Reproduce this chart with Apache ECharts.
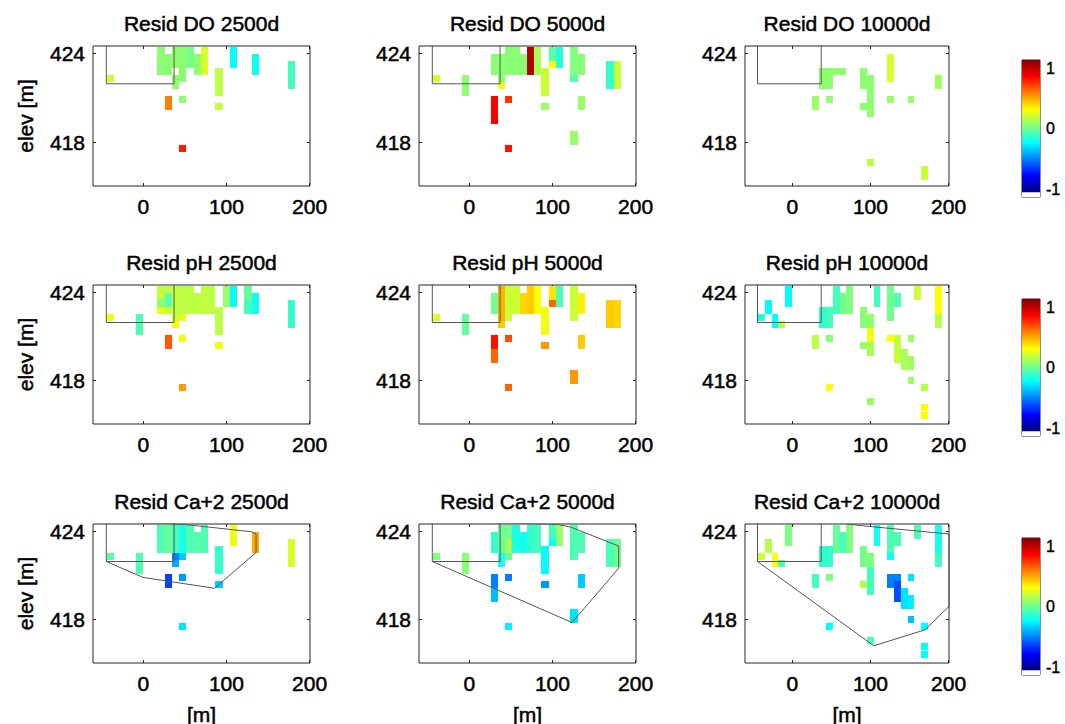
<!DOCTYPE html>
<html>
<head>
<meta charset="utf-8">
<script src="https://cdn.jsdelivr.net/npm/echarts@6/dist/echarts.min.js"></script>
<style>
html,body{margin:0;padding:0;background:#fff;}
#chart{width:1065px;height:724px;}
</style>
</head>
<body>
<div id="chart"></div>
<script>
// ---------- DATA ----------
// model grid: column centres (m) and row centres (elevation, m)
const colX = [-39.5, -30.8, -22.1, -13.4, -4.7, 4.0, 12.7, 21.4, 30.1, 38.8, 47.5, 56.2, 64.9, 73.6,
              82.3, 91.0, 99.7, 108.4, 117.1, 125.8, 134.5, 143.2, 151.9, 160.6, 169.3, 178.0, 186.7, 195.4];
const rowY = [424.21, 423.74, 423.26, 422.79, 422.31, 421.84, 421.36, 420.89, 420.41, 419.94,
              419.46, 418.99, 418.51, 418.04, 417.56, 417.09, 416.61, 416.14, 415.66, 415.19];

const xTicks = [0, 100, 200];
const yTicks = [418, 424];
const cbTicks = [-1, 0, 1];

const panelTitles = ['Resid DO 2500d', 'Resid DO 5000d', 'Resid DO 10000d',
                     'Resid pH 2500d', 'Resid pH 5000d', 'Resid pH 10000d',
                     'Resid Ca+2 2500d', 'Resid Ca+2 5000d', 'Resid Ca+2 10000d'];

// residual cells: [column index, first row, last row, residual]
const doCells2500 = [
  [0,4,4,0.15],[7,0,3,0.02],[8,1,3,0.02],[9,0,2,0.03],[9,4,5,0.03],[10,0,4,0.02],[11,0,2,-0.02],
  [12,1,3,0.03],[13,0,3,0.18],[15,3,6,0.12],[15,8,8,0.13],[17,0,2,-0.25],[20,1,3,-0.22],
  [25,2,5,-0.12],[8,7,8,0.5],[10,7,7,0.02],[10,14,14,0.7]
];
const doCells5000 = [
  [0,4,4,0.18],[4,4,6,0.03],[8,1,3,0.02],[9,1,3,0.02],[9,4,4,0.02],[9,5,5,0.2],[10,0,3,0.02],
  [11,0,3,0.02],[12,1,3,0.02],[13,0,3,0.9],[14,0,3,0.08],[15,3,6,0.15],[15,8,8,0.05],
  [16,0,1,-0.08],[16,2,2,0.25],[17,0,2,-0.18],[19,0,3,0.0],[19,4,4,-0.08],[20,1,3,0.02],
  [20,7,8,0.05],[19,12,13,0.05],[24,2,5,-0.15],[25,2,5,0.15],[8,7,10,0.75],[10,7,7,0.65],
  [10,14,14,0.72]
];
const doCells10000 = [
  [9,3,5,0.03],[10,3,5,0.03],[11,3,3,0.03],[12,3,3,0.03],[8,7,8,0.05],[10,7,7,0.03],
  [15,3,5,0.03],[15,8,8,0.03],[16,4,9,0.03],[19,1,4,0.17],[19,7,7,0.05],[22,7,7,0.05],
  [26,4,5,0.06],[16,16,16,0.12],[24,17,18,0.14]
];
const phCells2500 = [
  [0,4,4,0.22],[4,4,6,-0.1],[7,0,1,0.12],[7,2,2,0.02],[7,3,3,0.2],[8,0,0,0.12],[8,1,2,-0.08],
  [8,3,3,0.15],[9,0,3,0.12],[9,4,4,0.15],[9,5,5,0.25],[10,0,3,0.12],[10,4,4,0.2],[11,0,3,0.12],
  [12,1,3,0.12],[13,0,3,0.13],[14,0,3,0.12],[15,3,6,0.12],[15,8,8,0.22],[16,0,2,0.05],
  [17,0,2,-0.25],[19,0,1,-0.05],[19,2,3,-0.12],[20,1,3,-0.22],[25,2,5,-0.15],[8,7,8,0.58],
  [10,7,7,0.22],[10,14,14,0.45]
];
const phCells5000 = [
  [0,4,4,0.18],[4,4,6,-0.05],[8,1,3,-0.02],[8,7,8,0.72],[8,9,10,0.55],[9,0,4,0.4],[9,5,5,0.35],
  [10,0,4,0.15],[10,7,7,0.6],[10,14,14,0.55],[11,0,3,0.15],[12,1,3,0.33],[13,0,3,0.35],
  [14,0,3,0.25],[15,3,6,0.22],[15,8,8,0.45],[16,0,1,0.3],[16,2,2,0.55],[17,0,2,-0.1],
  [19,0,4,0.15],[20,1,3,0.28],[20,7,8,0.35],[19,12,13,0.45],[24,2,5,0.35],[25,2,5,0.33]
];
const phCells10000 = [
  [0,4,4,-0.2],[1,2,3,-0.25],[2,4,5,-0.25],[3,5,5,0.1],[4,0,2,-0.25],[8,7,8,0.12],[9,3,5,-0.15],
  [10,3,5,-0.12],[10,7,7,0.02],[10,14,14,0.25],[11,0,3,-0.12],[12,1,3,-0.02],[13,0,3,0.0],
  [15,3,5,0.02],[15,8,8,0.05],[16,4,5,0.03],[16,6,7,0.22],[16,8,9,0.08],[16,16,16,0.05],
  [17,0,2,-0.12],[19,0,4,-0.03],[20,1,2,-0.1],[19,7,7,0.25],[20,7,10,0.13],[21,9,11,0.08],
  [22,7,7,0.04],[22,10,11,0.06],[22,13,13,0.05],[23,0,1,0.15],[24,14,14,0.1],[24,17,18,0.25],
  [26,0,3,0.25],[26,4,5,0.1]
];
const caCells2500 = [
  [0,4,4,-0.08],[4,4,6,-0.1],[7,0,3,-0.1],[8,0,3,-0.05],[9,0,3,-0.12],[9,4,4,-0.5],[9,5,5,-0.42],
  [10,0,3,-0.2],[10,4,4,-0.35],[10,7,7,-0.45],[10,14,14,-0.3],[11,0,3,-0.1],[12,1,3,-0.08],
  [13,0,3,-0.1],[15,3,6,-0.15],[15,8,8,-0.35],[8,7,8,-0.62],[17,0,2,0.22],[20,1,3,0.42],
  [25,2,5,0.18]
];
const caCells5000 = [
  [0,4,4,0.0],[4,4,6,0.02],[8,1,3,-0.15],[9,0,3,-0.05],[9,4,5,-0.2],[10,0,1,-0.02],[10,2,3,0.08],
  [10,4,4,-0.05],[10,7,7,-0.5],[10,14,14,-0.28],[11,0,3,-0.2],[12,1,3,-0.22],[13,0,3,-0.15],
  [14,0,3,-0.12],[15,3,6,-0.25],[15,8,8,-0.45],[16,0,1,-0.12],[16,2,2,-0.25],[17,0,2,0.05],
  [19,0,4,-0.1],[19,12,13,-0.3],[20,1,3,-0.1],[20,7,8,-0.35],[8,7,8,-0.5],[8,9,10,-0.38],
  [24,2,5,-0.1],[25,2,5,-0.03]
];
const caCells10000 = [
  [0,4,4,0.15],[1,2,3,0.1],[2,4,5,0.25],[3,5,5,-0.08],[4,0,2,0.0],[8,7,8,-0.12],[9,3,5,-0.15],
  [10,3,5,-0.15],[10,7,7,0.0],[10,14,14,-0.25],[11,0,3,-0.05],[12,1,3,-0.12],[13,0,3,0.0],
  [15,3,5,-0.02],[15,8,8,0.1],[16,4,5,0.0],[16,6,9,-0.12],[16,16,16,-0.1],[17,0,2,-0.22],
  [19,0,3,-0.1],[19,4,4,-0.22],[20,1,2,-0.1],[19,7,8,-0.5],[20,7,7,-0.5],[20,8,10,-0.6],
  [21,9,11,-0.3],[22,7,7,-0.3],[22,10,11,-0.28],[22,13,13,-0.38],[23,0,1,-0.1],
  [24,14,14,-0.25],[24,17,18,-0.25],[26,0,3,-0.2],[26,4,5,-0.12]
];

// outlines (m, elevation m)
const sourceBox = [[-44.5,424.7],[-44.5,421.95],[37,421.95],[37,424.7]];
const plumeCa2500 = [[-44.5,421.95],[-0.5,420.87],[85.6,420.13],[135.6,422.56],[135.6,423.82],
                     [130.4,423.97],[49.6,424.47],[-44.5,424.7]];
const plumeCa5000 = [[-44.5,421.95],[123.6,417.8],[179.7,421.5],[179.7,423.0],[122.9,424.27],
                     [106.8,424.47],[-44.5,424.7]];
const plumeCa10000 = [[-44.5,421.95],[104.2,416.22],[169.6,417.3],[200.5,418.9],[200.5,423.82],
                      [89.5,424.38],[70,424.5]];

// colour bar: [from, to, kind]  kind 0 = no-data (white) bin, 1 = colour ramp
const cbBins = [[-1, -0.93, 0], [-0.93, 1, 1]];

const panelCells = [doCells2500, doCells5000, doCells10000, phCells2500, phCells5000, phCells10000,
                    caCells2500, caCells5000, caCells10000];
const panelOutlines = [[sourceBox], [sourceBox], [sourceBox], [sourceBox], [sourceBox], [sourceBox],
                       [sourceBox, plumeCa2500], [sourceBox, plumeCa5000], [sourceBox, plumeCa10000]];

// ---------- LAYOUT / STYLE ----------
const X_MIN = -60.5, X_MAX = 200.5, Y_MIN = 415.05, Y_MAX = 424.5;
const CELL_W = 8.7, CELL_H = 0.475;
const colLeft = [93, 419, 745], colWidth = [217, 217, 204];
const rowTop = [46, 285, 524], rowH = [140, 139, 139];
const cbLeft = 1022, cbWidth = 18, cbTop = [60, 299, 538], cbH = 137;
const FONT = 'Liberation Sans, Arial, Helvetica, sans-serif';
const AX = '#262626';
const TXT_STROKE = 0.5;

function jet(v) {
  const t = Math.max(0, Math.min(1, (v + 1) / 2));
  const f = c => Math.round(255 * Math.max(0, Math.min(1, 1.5 - Math.abs(4 * t - c))));
  return 'rgb(' + f(3) + ',' + f(2) + ',' + f(1) + ')';
}

function cellRender(params, api) {
  const x = api.value(0), y = api.value(1), v = api.value(2);
  const p0 = api.coord([x - CELL_W / 2, y + CELL_H / 2]);
  const p1 = api.coord([x + CELL_W / 2, y - CELL_H / 2]);
  const x0 = Math.round(p0[0]), x1 = Math.round(p1[0]);
  const y0 = Math.round(p0[1]), y1 = Math.round(p1[1]);
  return { type: 'rect', shape: { x: x0, y: y0, width: x1 - x0, height: y1 - y0 },
           style: { fill: jet(v) } };
}

function cbRender(params, api) {
  const lo = api.value(0), hi = api.value(1), kind = api.value(2);
  const p0 = api.coord([0, hi]);
  const p1 = api.coord([1, lo]);
  let fill = '#ffffff';
  if (kind === 1) {
    const stops = [1, 0.75, 0.25, -0.25, -0.75, -1].map(v => ({ offset: (1 - v) / 2, color: jet(v) }));
    fill = new echarts.graphic.LinearGradient(0, 0, 0, 1, stops);
  }
  return { type: 'rect', shape: { x: p0[0], y: p0[1], width: p1[0] - p0[0], height: p1[1] - p0[1] },
           style: { fill: fill } };
}

const grids = [], xAxes = [], yAxes = [], series = [], graphics = [];
const labelStyle = { color: '#000', fontSize: 21, fontFamily: FONT,
                     textBorderColor: '#000', textBorderWidth: TXT_STROKE };
const noLine = { show: false, onZero: false };
function textStyle(t) {
  return { text: t, fontSize: 21, fontFamily: FONT, fill: '#000', stroke: '#000', lineWidth: TXT_STROKE,
           align: 'center', verticalAlign: 'middle' };
}

for (let i = 0; i < 9; i++) {
  const ri = Math.floor(i / 3), ci = i % 3;
  grids.push({ left: colLeft[ci], top: rowTop[ri], width: colWidth[ci], height: rowH[ri],
               show: true, borderColor: AX, borderWidth: 1, backgroundColor: '#fff' });
  const xBase = { gridIndex: i, type: 'value', min: X_MIN, max: X_MAX, splitLine: { show: false },
                  axisLine: noLine };
  xAxes.push(Object.assign({}, xBase, { position: 'bottom',
    axisTick: { inside: true, length: 3, customValues: xTicks, lineStyle: { color: AX } },
    axisLabel: Object.assign({ customValues: xTicks, margin: 10 }, labelStyle) }));
  xAxes.push(Object.assign({}, xBase, { position: 'top',
    axisTick: { inside: true, length: 3, customValues: xTicks, lineStyle: { color: AX } },
    axisLabel: { show: false } }));
  const yBase = { gridIndex: i, type: 'value', min: Y_MIN, max: Y_MAX, splitLine: { show: false },
                  axisLine: noLine };
  yAxes.push(Object.assign({}, yBase, { position: 'left',
    axisTick: { inside: true, length: 3, customValues: yTicks, lineStyle: { color: AX } },
    axisLabel: Object.assign({ customValues: yTicks, margin: 8 }, labelStyle) }));
  yAxes.push(Object.assign({}, yBase, { position: 'right',
    axisTick: { inside: true, length: 3, customValues: yTicks, lineStyle: { color: AX } },
    axisLabel: { show: false } }));

  const cells = [];
  panelCells[i].forEach(([c, r0, r1, v]) => {
    for (let r = r0; r <= r1; r++) cells.push([colX[c], rowY[r], v]);
  });
  series.push({ type: 'custom', coordinateSystem: 'cartesian2d', xAxisIndex: 2 * i, yAxisIndex: 2 * i,
                clip: true, silent: true, renderItem: cellRender, data: cells, z: 2 });
  panelOutlines[i].forEach(line => {
    series.push({ type: 'line', xAxisIndex: 2 * i, yAxisIndex: 2 * i, data: line, showSymbol: false,
                  symbol: 'none', clip: true, silent: true, z: 3,
                  lineStyle: { color: '#555', width: 1 } });
  });

  const cx = colLeft[ci] + colWidth[ci] / 2;
  graphics.push({ type: 'text', x: cx, y: rowTop[ri] - 23, style: textStyle(panelTitles[i]) });
  if (ci === 0) {
    graphics.push({ type: 'text', x: 25, y: rowTop[ri] + rowH[ri] / 2, rotation: Math.PI / 2,
                    style: textStyle('elev [m]') });
  }
  if (ri === 2) {
    graphics.push({ type: 'text', x: cx, y: 714, style: textStyle('[m]') });
  }
}

// colour bars
for (let j = 0; j < 3; j++) {
  const gi = 9 + j;
  grids.push({ left: cbLeft, top: cbTop[j], width: cbWidth, height: cbH,
               show: true, borderColor: AX, borderWidth: 1, backgroundColor: '#fff' });
  xAxes.push({ gridIndex: gi, type: 'value', min: 0, max: 1, show: false });
  yAxes.push({ gridIndex: gi, type: 'value', min: -1, max: 1, position: 'left', splitLine: { show: false },
    axisLine: noLine,
    axisTick: { inside: true, length: 3, customValues: [0], lineStyle: { color: AX } },
    axisLabel: { show: false } });
  yAxes.push({ gridIndex: gi, type: 'value', min: -1, max: 1, position: 'right', splitLine: { show: false },
    axisLine: noLine,
    axisTick: { inside: true, length: 3, customValues: [0], lineStyle: { color: AX } },
    axisLabel: { customValues: cbTicks, margin: 6, color: '#000', fontSize: 16, fontFamily: FONT,
                 textBorderColor: '#000', textBorderWidth: 0.4,
                 verticalAlignMaxLabel: 'top', verticalAlignMinLabel: 'bottom' } });
  series.push({ type: 'custom', coordinateSystem: 'cartesian2d', xAxisIndex: 18 + j, yAxisIndex: 18 + 2 * j,
                silent: true, renderItem: cbRender, data: cbBins, z: 1 });
}

const chart = echarts.init(document.getElementById('chart'), null, { renderer: 'svg' });
chart.setOption({
  animation: false,
  backgroundColor: '#fff',
  grid: grids,
  xAxis: xAxes,
  yAxis: yAxes,
  series: series,
  graphic: graphics
});
</script>
</body>
</html>
